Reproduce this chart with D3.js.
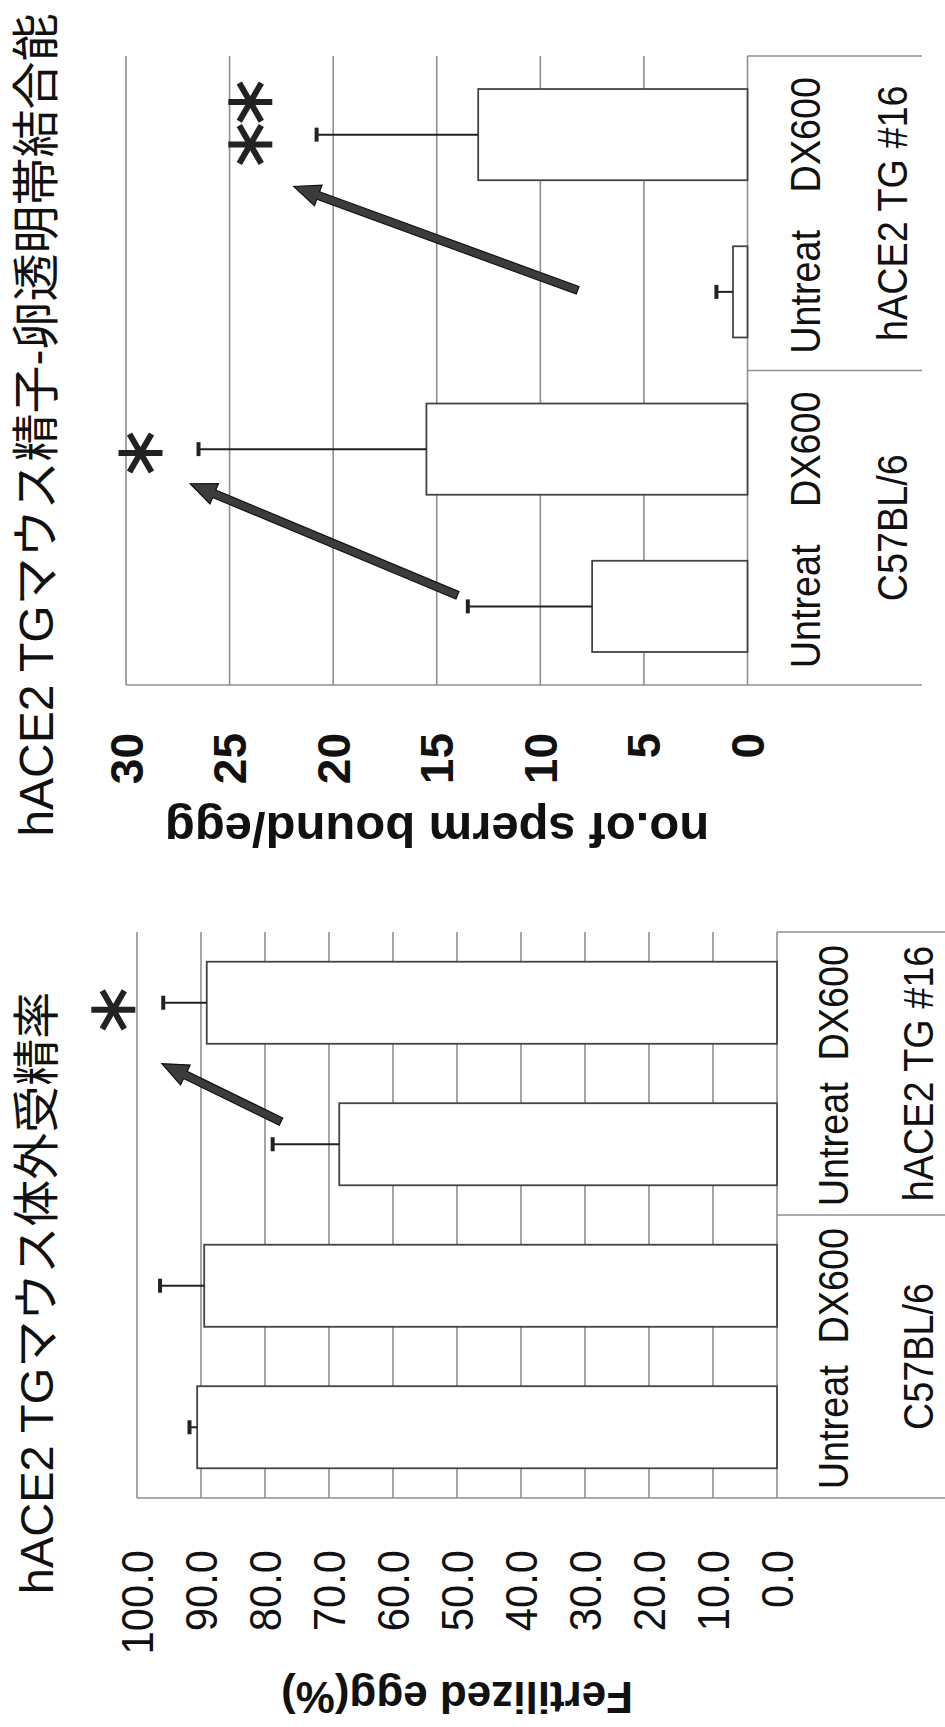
<!DOCTYPE html>
<html>
<head>
<meta charset="utf-8">
<script src="https://cdn.jsdelivr.net/npm/d3@7"></script>
<style>
body { margin: 0; background: #fff; }
svg { display: block; background: #fff; }
text { font-family: 'Liberation Sans', Arial, 'Noto Sans CJK JP', sans-serif; fill: #111; }
</style>
</head>
<body>
<svg id="chart" width="945" height="1727"></svg>
<script>
const W = 945
const H = 1727

// data
const categories = ["Untreat", "DX600", "Untreat", "DX600"]
const groups = ["C57BL/6", "hACE2 TG #16"]

const spermMean = [7.5, 15.5, 0.7, 13.0]
const spermErr = [6.0, 11.0, 0.8, 7.8]
const spermTicks = [0, 5, 10, 15, 20, 25, 30]
const spermTickLabels = ["0", "5", "10", "15", "20", "25", "30"]

const fertMean = [90.6, 89.5, 68.4, 89.1]
const fertErr = [1.2, 6.9, 10.4, 6.8]
const fertTicks = [0, 10, 20, 30, 40, 50, 60, 70, 80, 90, 100]
const fertTickLabels = ["0.0", "10.0", "20.0", "30.0", "40.0", "50.0", "60.0", "70.0", "80.0", "90.0", "100.0"]

// annotations: [category position, value]
const spermArrows = [[[0.07, 14.0], [0.78, 26.9]], [[2.01, 8.2], [2.67, 21.9]]]
const spermStars = [[0.975, 29.3], [2.937, 24.0], [3.207, 24.0]]
const fertArrows = [[[2.16, 77.5], [2.57, 96.1]]]
const fertStars = [[2.95, 103.7]]

const panels = [
    {
        title: "hACE2 TGマウス精子-卵透明帯結合能", titleSize: 48, titleX: 260,
        axisTitle: "no.of sperm bound/egg", axisSize: 49, axisX: -128, axisY: 437,
        mean: spermMean, err: spermErr, ticks: spermTicks, tickLabels: spermTickLabels,
        tickSize: 46, tickWeight: "bold", tickSq: 1, labelEnd: -48,
        arrows: spermArrows, stars: spermStars,
        base: 685, len: 629, v0: 747.5, vTop: 126, max: 30, tableEnd: 922,
        catY: 820, grpY: 907
    },
    {
        title: "hACE2 TGマウス体外受精率", titleSize: 47, titleX: 205,
        axisTitle: "Fertilized egg(%)", axisSize: 44, axisX: -184, axisY: 457,
        mean: fertMean, err: fertErr, ticks: fertTicks, tickLabels: fertTickLabels,
        tickSize: 44, tickWeight: "normal", tickSq: 0.95, labelEnd: -52,
        arrows: fertArrows, stars: fertStars,
        base: 1498, len: 566, v0: 777, vTop: 137, max: 100, tableEnd: 960,
        catY: 848, grpY: 933
    }
]

const GRID = "#8f8f8f"

const svg = d3.select('#chart')

const arrowPath = (x1, y1, x2, y2) => {
    const dx = x2 - x1, dy = y2 - y1
    const L = Math.hypot(dx, dy)
    const ux = dx / L, uy = dy / L, px = -uy, py = ux
    const sw = 4, hw = 11, hl = 26
    const bx = x2 - ux * hl, by = y2 - uy * hl
    const pts = [
        [x1 + px * sw, y1 + py * sw], [bx + px * sw, by + py * sw], [bx + px * hw, by + py * hw],
        [x2, y2],
        [bx - px * hw, by - py * hw], [bx - px * sw, by - py * sw], [x1 - px * sw, y1 - py * sw]
    ]
    return d3.line()(pts) + "Z"
}

panels.forEach(p => {
    // local frame = original (unrotated) chart; rotated -90 onto the page
    const g = svg.append('g').attr('transform', `translate(0,${p.base}) rotate(-90)`)

    const x = d3.scaleBand().domain(d3.range(categories.length)).range([0, p.len])
        .paddingInner(0.42).paddingOuter(0.21)
    const pos = d3.scaleLinear().domain([-0.5, categories.length - 0.5]).range([0, p.len])
    const y = d3.scaleLinear().domain([0, p.max]).range([p.v0, p.vTop])

    // gridlines
    g.selectAll('.grid').data(p.ticks).enter().append('line')
        .attr('class', 'grid')
        .attr('x1', 0).attr('x2', p.len)
        .attr('y1', d => y(d)).attr('y2', d => y(d))
        .attr('stroke', GRID).attr('stroke-width', 1.6)

    // left axis line and category table lines
    g.append('line').attr('x1', 0).attr('x2', 0).attr('y1', y(p.max)).attr('y2', p.tableEnd)
        .attr('stroke', GRID).attr('stroke-width', 1.6)
    ;[p.len / 2, p.len].forEach(b => {
        g.append('line').attr('x1', b).attr('x2', b).attr('y1', y(0)).attr('y2', p.tableEnd)
            .attr('stroke', GRID).attr('stroke-width', 1.6)
    })

    // bars
    g.selectAll('.bar').data(p.mean).enter().append('rect')
        .attr('class', 'bar')
        .attr('x', (d, i) => x(i))
        .attr('width', x.bandwidth())
        .attr('y', d => y(d))
        .attr('height', d => y(0) - y(d))
        .attr('fill', '#fff').attr('stroke', '#444').attr('stroke-width', 1.8)

    // error bars
    p.mean.forEach((m, i) => {
        const cx = pos(i)
        const top = y(m + p.err[i])
        g.append('line').attr('x1', cx).attr('x2', cx).attr('y1', y(m)).attr('y2', top)
            .attr('stroke', '#222').attr('stroke-width', 2)
        g.append('line').attr('x1', cx - 7).attr('x2', cx + 7).attr('y1', top).attr('y2', top)
            .attr('stroke', '#222').attr('stroke-width', 4)
    })

    // tick labels
    p.ticks.forEach((t, i) => {
        g.append('text')
            .attr('transform', `translate(${p.labelEnd},${y(t)}) scale(${p.tickSq},1)`)
            .attr('text-anchor', 'end')
            .attr('dy', '0.36em')
            .attr('font-size', p.tickSize)
            .attr('font-weight', p.tickWeight)
            .text(p.tickLabels[i])
    })

    // axis title
    g.append('text')
        .attr('transform', `translate(${p.axisX},${p.axisY}) rotate(-90)`)
        .attr('text-anchor', 'middle')
        .attr('font-size', p.axisSize)
        .attr('font-weight', 'bold')
        .text(p.axisTitle)

    // category table labels
    categories.forEach((c, i) => {
        g.append('text')
            .attr('transform', `translate(${pos(i)},${p.catY}) scale(0.9,1)`)
            .attr('text-anchor', 'middle')
            .attr('font-size', 42)
            .text(c)
    })
    groups.forEach((c, i) => {
        g.append('text')
            .attr('transform', `translate(${pos(2 * i + 0.5)},${p.grpY}) scale(0.9,1)`)
            .attr('text-anchor', 'middle')
            .attr('font-size', 42)
            .text(c)
    })

    // title
    g.append('text')
        .attr('x', p.titleX).attr('y', 53)
        .attr('text-anchor', 'middle')
        .attr('font-size', p.titleSize)
        .text(p.title)

    // arrows
    p.arrows.forEach(a => {
        g.append('path')
            .attr('d', arrowPath(pos(a[0][0]), y(a[0][1]), pos(a[1][0]), y(a[1][1])))
            .attr('fill', '#3c3c3c').attr('stroke', '#111').attr('stroke-width', 1.2)
    })

    // significance stars
    p.stars.forEach(s => {
        const cx = pos(s[0]), cy = y(s[1]), r = 22
        ;[90, 30, 150].forEach(a => {
            const rad = a * Math.PI / 180
            g.append('line')
                .attr('x1', cx - r * Math.cos(rad)).attr('y1', cy - r * Math.sin(rad))
                .attr('x2', cx + r * Math.cos(rad)).attr('y2', cy + r * Math.sin(rad))
                .attr('stroke', '#222').attr('stroke-width', 6)
        })
    })
})
</script>
</body>
</html>
